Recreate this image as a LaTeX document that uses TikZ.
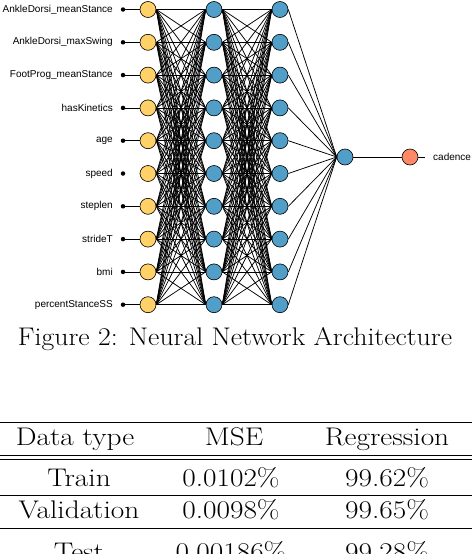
\documentclass[tikz,border=0pt]{standalone}
\usepackage{fontspec}
\usepackage{graphicx}
\newfontfamily\labfont{Liberation Sans}
\definecolor{inyel}{HTML}{FFD166}
\definecolor{hidblue}{HTML}{519FC9}
\definecolor{outor}{HTML}{FF8866}
\newcommand{\captxt}[1]{\scalebox{1.09}[1]{#1}}
\newcommand{\tabtxt}[1]{\scalebox{1.15}[1]{#1}}
\begin{document}
\begin{tikzpicture}[x=1pt,y=-1pt,
  neuron/.style={circle,draw=black,line width=0.6pt,minimum size=16pt,inner sep=0pt},
  inneuron/.style={neuron,fill=inyel},
  hidneuron/.style={neuron,fill=hidblue},
  outneuron/.style={neuron,fill=outor},
  indot/.style={circle,fill=black,minimum size=4.5pt,inner sep=0pt},
  edge/.style={line width=0.75pt,black},
  lab/.style={font=\labfont\fontsize{10}{12}\selectfont,inner sep=0pt},
  big/.style={font=\fontsize{25.5}{30}\selectfont,inner sep=0pt,anchor=base},
  rulestyle/.style={line width=0.9pt}]
\useasboundingbox (0,0) rectangle (472,554);
% labels, dots, input neurons
\foreach \i/\t in {0/AnkleDorsi\_meanStance,1/AnkleDorsi\_maxSwing,2/FootProg\_meanStance,3/hasKinetics,4/age,5/speed,6/steplen,7/strideT,8/bmi,9/percentStanceSS}{
  \pgfmathsetmacro{\yy}{9.5+32.8*\i}
  \node[lab,anchor=east] (L\i) at (113,\yy) {\t};
  \node[indot] (D\i) at (123,\yy) {};
  \node[inneuron] (I\i) at (148,\yy) {};
  \node[hidneuron] (A\i) at (214,\yy) {};
  \node[hidneuron] (B\i) at (280,\yy) {};
}
\node[hidneuron] (H) at (345,157) {};
\node[outneuron] (O) at (410,157) {};
\coordinate (Oend) at (425,157);
\node[lab,anchor=west] (cad) at (433,157) {cadence};
% connectors
\foreach \i in {0,1,2,3,4,6,7,8,9}{ \draw[edge] (D\i) -- (I\i.west); }
\foreach \i in {0,...,9}{
  \foreach \j in {0,...,9}{
    \draw[edge] (I\i.east) -- (A\j.west);
    \draw[edge] (A\i.east) -- (B\j.west);
  }
  \draw[edge] (B\i.east) -- (H.west);
}
\draw[edge] (H) -- (O);
\draw[edge] (O) -- (Oend);
% caption
\node[big] (cap) at (235,345) {\captxt{Figure 2: Neural Network Architecture}};
% table
\draw[rulestyle] (0,422) -- (472,422);
\draw[rulestyle] (0,455) -- (472,455);
\draw[rulestyle] (0,459) -- (472,459);
\draw[rulestyle] (0,495) -- (472,495);
\draw[rulestyle] (0,528) -- (472,528);
\node[big] (h1) at (75,445) {\tabtxt{Data type}};
\node[big] (h2) at (234,445) {\tabtxt{MSE}};
\node[big] (h3) at (387,445) {\tabtxt{Regression}};
\node[big] (r11) at (79,486) {\tabtxt{Train}};
\node[big] (r12) at (231,486) {\tabtxt{0.0102\%}};
\node[big] (r13) at (387,486) {\tabtxt{99.62\%}};
\node[big] (r21) at (79,518.3) {\tabtxt{Validation}};
\node[big] (r22) at (231,518.3) {\tabtxt{0.0098\%}};
\node[big] (r23) at (387,518.3) {\tabtxt{99.65\%}};
\node[big] (r31) at (79,560) {\tabtxt{Test}};
\node[big] (r32) at (231,560) {\tabtxt{0.00186\%}};
\node[big] (r33) at (387,560) {\tabtxt{99.28\%}};
\end{tikzpicture}
\end{document}
